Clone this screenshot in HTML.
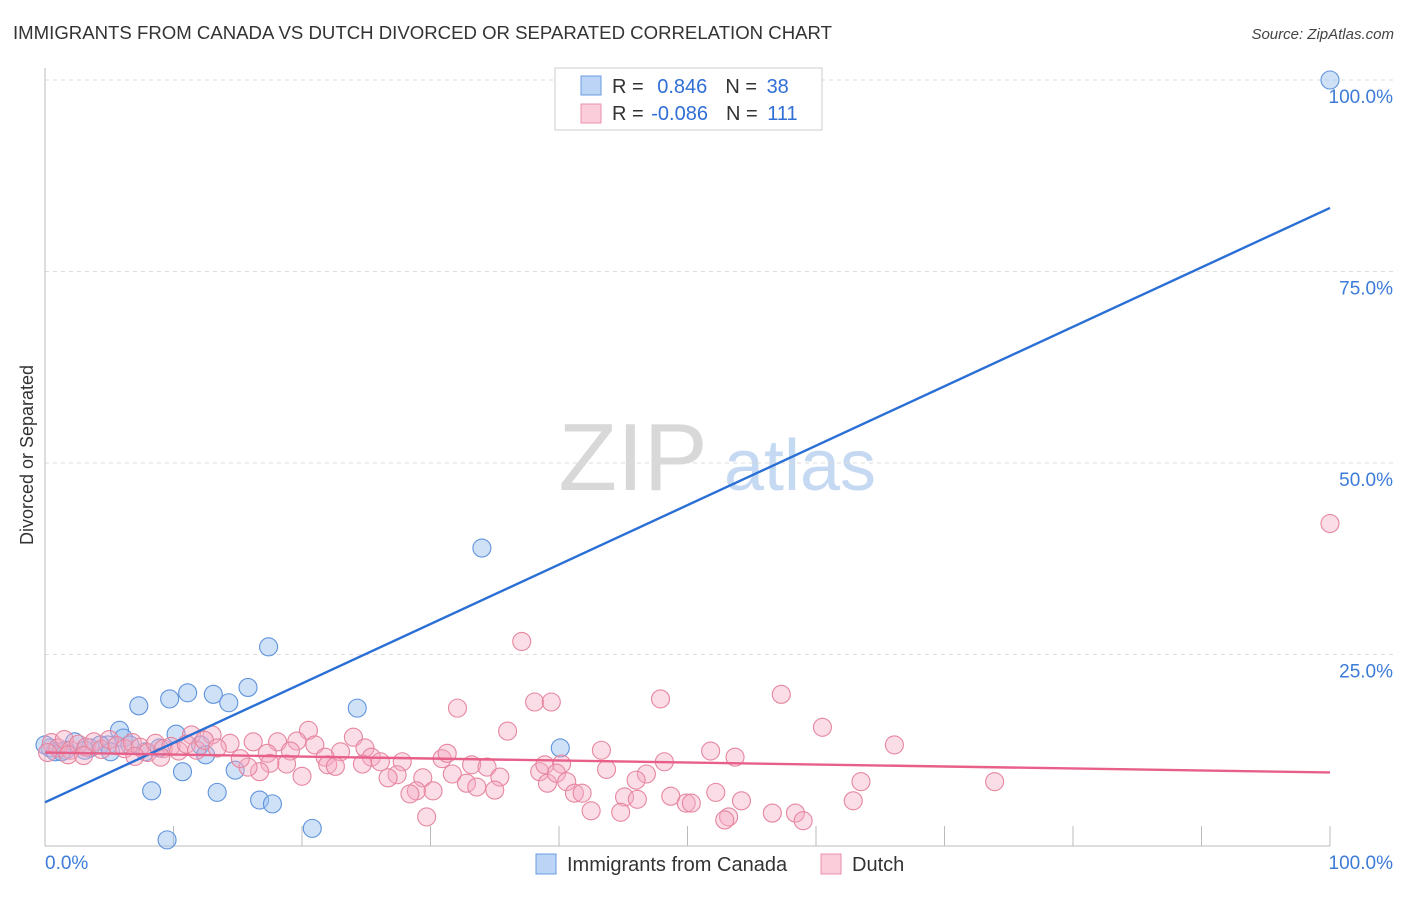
<!DOCTYPE html>
<html><head><meta charset="utf-8"><style>
body{margin:0;background:#fff;font-family:"Liberation Sans",sans-serif;}
svg text{font-family:"Liberation Sans",sans-serif;}
</style></head><body>
<svg id="chart" width="1406" height="892" xmlns="http://www.w3.org/2000/svg">
<text x="13" y="39" font-size="18.6" fill="#333" textLength="819" lengthAdjust="spacingAndGlyphs">IMMIGRANTS FROM CANADA VS DUTCH DIVORCED OR SEPARATED CORRELATION CHART</text>
<text x="1394" y="39" font-size="15" fill="#444" font-style="italic" text-anchor="end">Source: ZipAtlas.com</text>
<g>
<text x="633" y="490" font-size="96" fill="#d8d8d8" text-anchor="middle" font-family="Liberation Serif,serif">ZIP</text>
<text x="800" y="490" font-size="72" fill="#c5d9f2" text-anchor="middle">atlas</text>
</g>
<g id="grid"></g>
<g id="axes"></g>
<g id="marks"></g>
<text transform="translate(33,455) rotate(-90)" font-size="18" fill="#333" text-anchor="middle">Divorced or Separated</text>
<g>
<rect x="555" y="68" width="267" height="62" fill="#fff" stroke="#ccc"/>
<rect x="581" y="76" width="20" height="19" fill="#bcd4f5" stroke="#6a9be0"/>
<rect x="581" y="104" width="20" height="19" fill="#fbcddb" stroke="#e890aa"/>
<text x="612" y="93" font-size="20" fill="#333">R =  <tspan fill="#2f6fd6" dx="8">0.846</tspan><tspan fill="#333" dx="18">N = </tspan><tspan fill="#2f6fd6" dx="4">38</tspan></text>
<text x="612" y="120" font-size="20" fill="#333">R = <tspan fill="#2f6fd6" dx="2">-0.086</tspan><tspan fill="#333" dx="18">N = </tspan><tspan fill="#2f6fd6" dx="4">111</tspan></text>
</g>
<g>
<rect x="536" y="854" width="20" height="20" fill="#bcd4f5" stroke="#6a9be0"/>
<text x="567" y="871" font-size="20" fill="#333">Immigrants from Canada</text>
<rect x="821" y="854" width="20" height="20" fill="#fbcddb" stroke="#e890aa"/>
<text x="852" y="871" font-size="20" fill="#333">Dutch</text>
</g>
</svg>
<script>
const yTicks=[25,50,75,100];
const yTickLabels=["25.0%","50.0%","75.0%","100.0%"];
const xTickLabels=["0.0%","100.0%"];
const blueX=[100,34.0,17.4,7.3,9.7,11.1,13.1,14.3,15.8,24.3,40.1,5.8,10.2,8.3,10.7,13.4,14.8,16.7,17.7,20.8,9.5,6.1,4.9,2.3,3.5,0.4,0.8,1.6,0,4.3,6.6,7.8,8.9,12.1,12.5,1.3,3.1,5.1];
const blueY=[100,38.9,26.0,18.3,19.2,20.0,19.8,18.7,20.7,18.0,12.8,15.1,14.6,7.2,9.7,7.0,9.9,6.0,5.5,2.3,0.8,14.1,13.2,13.6,12.8,12.8,12.3,12.5,13.2,13.2,13.2,12.3,12.8,13.2,11.9,12.3,12.5,12.3];
const pinkX=[37.1,32.1,38.1,36.0,20.5,24.0,19.6,18.1,16.2,14.4,13.0,11.4,24.9,21.0,19.1,17.3,23.0,25.4,27.8,30.9,31.3,33.2,34.4,35.4,31.7,29.4,27.4,26.7,32.8,33.6,35.0,30.2,28.9,28.4,29.7,20.0,18.8,17.5,16.7,15.8,15.2,21.8,22.0,22.6,24.7,26.1,38.5,38.9,39.1,39.4,47.9,57.3,60.5,66.1,43.3,51.8,53.7,48.2,40.2,39.8,43.7,40.6,46.8,46.0,63.5,73.9,41.2,41.8,45.1,46.1,48.7,52.2,54.2,62.9,42.5,44.8,49.9,50.3,53.2,52.9,56.6,58.4,59.0,100,0.5,1.0,1.5,2.0,2.6,3.2,3.8,4.4,5.0,5.6,6.2,6.8,7.4,8.0,8.6,9.2,9.8,10.4,11.0,11.8,12.4,13.4,0.2,1.8,3.0,7.0,9.0];
const pinkY=[26.7,18.0,18.8,15.0,15.1,14.2,13.7,13.6,13.6,13.4,14.5,14.5,12.8,13.2,12.4,12.1,12.3,11.6,11.0,11.4,12.1,10.6,10.3,9.0,9.4,8.9,9.3,8.9,8.2,7.7,7.3,7.2,7.2,6.8,3.8,9.1,10.7,10.8,9.7,10.3,11.4,11.6,10.6,10.4,10.7,11.0,9.7,10.6,8.2,18.8,19.2,19.8,15.5,13.2,12.5,12.4,11.6,11.0,10.7,9.5,10.0,8.4,9.4,8.6,8.4,8.4,6.9,6.9,6.4,6.1,6.5,7.0,5.9,5.9,4.6,4.4,5.6,5.6,3.8,3.4,4.3,4.3,3.3,42.1,13.5,12.8,13.9,12.5,13.3,12.9,13.6,12.6,13.9,13.1,12.7,13.5,12.9,12.2,13.4,12.7,13.0,12.4,13.3,12.5,13.8,12.8,12.2,11.9,11.8,11.7,11.6];
const blueTrend=[5.7,83.3];
const pinkTrend=[12.2,9.6];
const NS="http://www.w3.org/2000/svg";
const X0=45,X1=1330,Y0=846,Y1=80;
const sx=v=>X0+(X1-X0)*v/100;
const sy=v=>Y0-(Y0-Y1)*v/100;
function mk(tag,attrs,parent){const e=document.createElementNS(NS,tag);for(const k in attrs)e.setAttribute(k,attrs[k]);parent.appendChild(e);return e;}
const grid=document.getElementById('grid'),axes=document.getElementById('axes'),marks=document.getElementById('marks');
yTicks.forEach((t,i)=>{
 const l=mk('line',{x1:45,x2:1393,y1:sy(t),y2:sy(t),stroke:'#ddd','stroke-dasharray':'4,4'},grid);
 
 
 const tx=mk('text',{x:1393,y:sy(t)+23,'font-size':19,fill:'#3d7bd9','text-anchor':'end'},axes);
 tx.textContent=yTickLabels[i];
 
 
});
const la=mk('line',{x1:45,x2:45,y1:68,y2:846,stroke:'#bbb'},axes);


const ba=mk('line',{x1:45,x2:1330,y1:846,y2:846,stroke:'#bbb'},axes);


for(let k=1;k<=10;k++){
 const t=mk('line',{x1:sx(k*10),x2:sx(k*10),y1:826,y2:846,stroke:'#bbb'},axes);
 
 
}
[[0,'start',45],[100,'end',1393]].forEach((d,i)=>{
 const t=mk('text',{x:d[2],y:869,'font-size':19,fill:'#3d7bd9','text-anchor':d[1]},axes);
 t.textContent=xTickLabels[i];
 
 
});
blueX.forEach((v,i)=>{
 const c=mk('circle',{cx:sx(v),cy:sy(blueY[i]),r:9,fill:'rgba(160,195,240,0.5)',stroke:'#5f93dd','stroke-width':1.1},marks);
 
 
});
pinkX.forEach((v,i)=>{
 const c=mk('circle',{cx:sx(v),cy:sy(pinkY[i]),r:9,fill:'rgba(245,170,195,0.4)',stroke:'#e6869f','stroke-width':1.1},marks);
 
 
});
const bt=mk('line',{x1:sx(0),y1:sy(blueTrend[0]),x2:sx(100),y2:sy(blueTrend[1]),stroke:'#2a6fd6','stroke-width':2.4},marks);


const pt=mk('line',{x1:sx(0),y1:sy(pinkTrend[0]),x2:sx(100),y2:sy(pinkTrend[1]),stroke:'#e8608a','stroke-width':2.4},marks);


</script>
</body></html>
